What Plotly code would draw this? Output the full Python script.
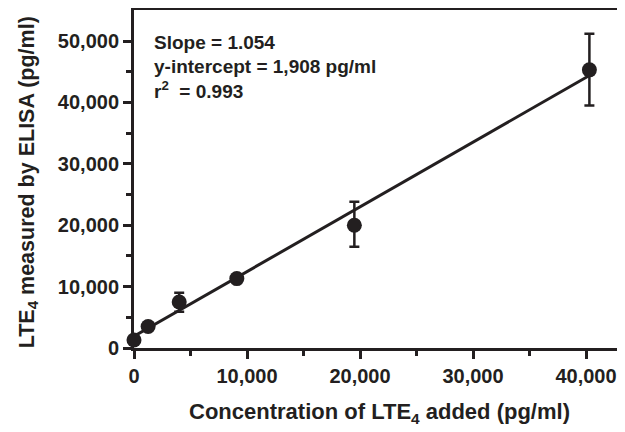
import plotly.graph_objects as go

added = [0, 1250, 4000, 9100, 19500, 40300]
measured = [1300, 3500, 7500, 11300, 20000, 45300]
err_plus = [300, 300, 1500, 300, 3800, 5900]
err_minus = [300, 300, 1600, 300, 3500, 5800]
slope = 1.054
intercept = 1908
fit_x = [0, 40300]
fit_y = [slope * v + intercept for v in fit_x]
notes = ["Slope = 1.054", "y-intercept = 1,908 pg/ml", "r<sup>2</sup>  = 0.993"]
x_title = "Concentration of LTE<sub>4</sub> added (pg/ml)"
y_title = "LTE<sub>4</sub> measured by ELISA (pg/ml)"

ink = "#231f20"
font = dict(family="Liberation Sans, Arial, sans-serif", color=ink, weight="bold")

fig = go.Figure()
fig.add_trace(go.Scatter(x=fit_x, y=fit_y, mode="lines",
                         line=dict(color=ink, width=3), cliponaxis=False, showlegend=False))
fig.add_trace(go.Scatter(x=added, y=measured, mode="markers",
                         marker=dict(color=ink, size=15),
                         error_y=dict(type="data", array=err_plus, arrayminus=err_minus,
                                      color=ink, thickness=2.5, width=5),
                         cliponaxis=False, showlegend=False))

for i, t in enumerate(notes):
    fig.add_annotation(text=t, xref="paper", yref="paper", x=0.037, y=0.905 - i * 0.071,
                       xanchor="left", yanchor="middle", showarrow=False,
                       font=dict(**font, size=19))

fig.add_annotation(text=y_title, xref="paper", yref="paper", x=-0.216, y=0.49,
                   xanchor="center", yanchor="middle", textangle=-90, showarrow=False,
                   font=dict(**font, size=21.5))

# the page body adds an 8px offset, so the figure is 8px smaller and margins shifted
fig.update_layout(
    width=617, height=424,
    margin=dict(l=126, r=0, t=2, b=84, autoexpand=False),
    paper_bgcolor="white", plot_bgcolor="white",
    font=dict(**font, size=17),
    xaxis=dict(range=[0, 43450], showgrid=False, zeroline=False, automargin=False,
               showline=True, linecolor=ink, linewidth=3, mirror=True,
               ticks="outside", ticklen=8, tickwidth=3, tickcolor=ink,
               tickvals=[0, 10000, 20000, 30000, 40000],
               ticktext=["0", "10,000", "20,000", "30,000", "40,000"],
               tickfont=dict(**font, size=20),
               minor=dict(tickvals=[5000, 15000, 25000, 35000], ticks="outside",
                          ticklen=5, tickwidth=3, tickcolor=ink),
               title=dict(text=x_title, font=dict(**font, size=22), standoff=18)),
    yaxis=dict(range=[0, 55050], showgrid=False, zeroline=False, automargin=False,
               showline=True, linecolor=ink, linewidth=3,
               ticks="outside", ticklen=8, tickwidth=3, tickcolor=ink,
               tickvals=[0, 10000, 20000, 30000, 40000, 50000],
               ticktext=["0", "10,000", "20,000", "30,000", "40,000", "50,000"],
               tickfont=dict(**font, size=20),
               minor=dict(tickvals=[5000, 15000, 25000, 35000, 45000], ticks="outside",
                          ticklen=5, tickwidth=3, tickcolor=ink)),
)

fig.write_html("out.html")
